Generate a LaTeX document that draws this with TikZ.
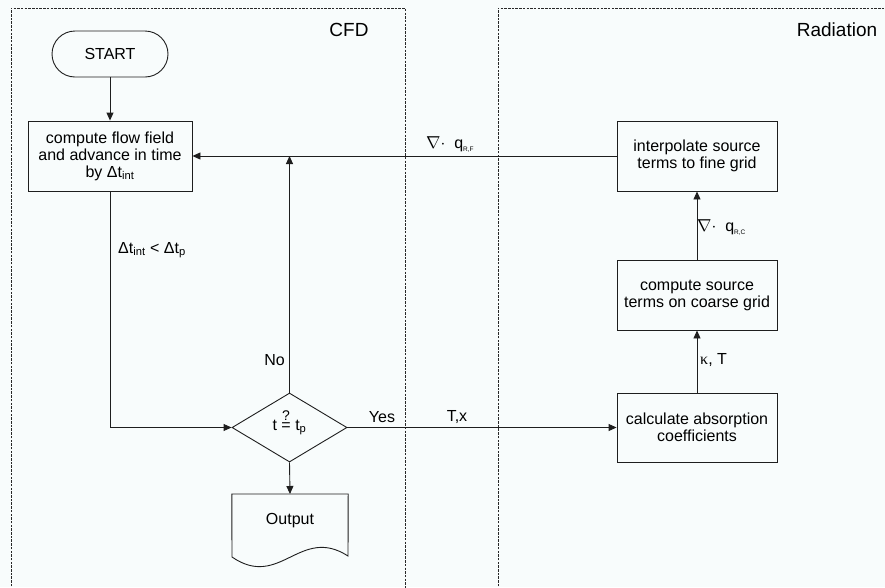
\documentclass[tikz,border=0pt]{standalone}
\usepackage{fontspec}
\setmainfont{Liberation Sans}
\newfontfamily\symfont{Liberation Serif}
\usetikzlibrary{shapes.geometric,arrows.meta}
\definecolor{bgc}{RGB}{248,252,252}
\definecolor{linec}{RGB}{30,30,30}
\definecolor{dashc}{RGB}{40,40,40}
\newcommand{\tinysub}[1]{\raisebox{-3pt}{\fontsize{6.5}{6.5}\selectfont #1}}
\begin{document}
\begin{tikzpicture}[x=1pt,y=-1pt,
  every node/.style={font=\fontsize{16}{17}\selectfont, text=black},
  box/.style={draw=linec, line width=0.9pt, rectangle, align=center, inner sep=0pt},
  term/.style={draw=linec, line width=0.9pt, rectangle, rounded corners=23pt, minimum width=116pt, minimum height=46pt, inner sep=0pt},
  diam/.style={draw=linec, line width=0.9pt, diamond, minimum width=115pt, minimum height=69pt, inner sep=0pt},
  arr/.style={draw=linec, line width=0.9pt, -{Triangle[length=8pt,width=7pt]}},
  conn/.style={draw=linec, line width=0.9pt},
  panel/.style={draw=dashc, line width=0.8pt, dash pattern=on 2.5pt off 1.2pt},
  lbl/.style={inner sep=0pt},
  title/.style={font=\fontsize{19}{20}\selectfont, inner sep=0pt}]
\fill[bgc] (0,0) rectangle (885,587);
\useasboundingbox (0,0) rectangle (885,587);
% panels
\draw[panel] (11,590) -- (11,8) -- (405,8) -- (405,590);
\draw[panel] (498,590) -- (498,8) -- (890,8);
\node[title] (cfd) at (349,30) {CFD};
\node[title] (rad) at (837,30) {Radiation};
% nodes
\node[term] (start) at (110,54) {START};
\node[box, minimum width=164pt, minimum height=70pt] (flow) at (110,156) {compute flow field\\and advance in time\\by Δt\textsubscript{int}};
\node[diam] (dec) at (289.5,427.5) {t \ooalign{=\cr\hidewidth\raisebox{0.62em}{\fontsize{14}{14}\selectfont ?}\hidewidth\cr} t\textsubscript{p}};
\node[anchor=north, minimum width=116pt, minimum height=52pt, inner sep=0pt] (out) at (290,494) {Output};
\draw[conn] (out.north west) -- (out.north east) -- (348,556) .. controls (300,525) and (280,590) .. (232,557) -- cycle;
\node[box, minimum width=160pt, minimum height=70pt] (interp) at (697,156) {interpolate source\\terms to fine grid};
\node[box, minimum width=160pt, minimum height=70pt] (csrc) at (697,295) {compute source\\terms on coarse grid};
\node[box, minimum width=160pt, minimum height=69pt] (calc) at (697,427.5) {calculate absorption\\coefficients};
% connectors
\draw[arr] (start) -- (flow);
\draw[arr] (interp.west) -- (flow.east);
\draw[arr] (dec.north) -- (dec.north |- flow.east);
\draw[arr] (flow.south) |- (dec.west);
\draw[arr] (dec.south) -- (out.north);
\draw[arr] (dec.east) -- (calc.west);
\draw[arr] (calc.north) -- (csrc.south);
\draw[arr] (csrc.north) -- (interp.south);
% labels
\node[lbl, anchor=east] (no) at (285,360) {No};
\node[lbl, anchor=west] (dtl) at (118,250) {Δt\textsubscript{int} < Δt\textsubscript{p}};
\node[lbl] (yes) at (382,417) {Yes};
\node[lbl] (tx) at (457,417) {T,x};
\node[lbl, anchor=west] (kt) at (700,360) {{\symfont κ}, T};
\node[lbl, anchor=west] (qc) at (697,228) {$\nabla\cdot$\ \ q\tinysub{R,C}};
\node[lbl, anchor=west] (qf) at (426,145) {$\nabla\cdot$\ \ q\tinysub{R,F}};
\end{tikzpicture}
\end{document}
